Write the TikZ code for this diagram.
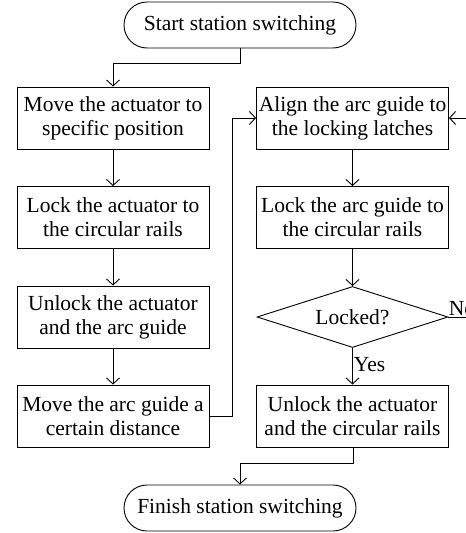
\documentclass[tikz,border=0pt]{standalone}
\usepackage{fontspec}
\setmainfont{Liberation Serif}
\usetikzlibrary{shapes.geometric,arrows.meta}
\begin{document}
\begin{tikzpicture}[x=1pt,y=-1pt,
  font=\fontsize{21.5}{24}\selectfont,
  every path/.style={line width=0.9pt},
  stepbox/.style={draw, rectangle, minimum width=192pt, minimum height=62pt, align=center, inner sep=0pt},
  term/.style={draw, rectangle, rounded corners=23pt, minimum width=232pt, minimum height=46pt, inner sep=0pt},
  decision/.style={draw, diamond, minimum width=191pt, minimum height=61pt, aspect=3.1, inner sep=0pt},
  arr/.style={-{Straight Barb[length=6pt,width=13pt]}, line width=0.9pt},
  lbl/.style={inner sep=1pt}]
\useasboundingbox (0,0) rectangle (466,533);
\node[term] (start) at (240,25) {Start station switching};
\node[stepbox] (b1) at (113,118) {Move the actuator to\\specific position};
\node[stepbox] (b2) at (113,217.5) {Lock the actuator to\\the circular rails};
\node[stepbox] (b3) at (113,317) {Unlock the actuator\\and the arc guide};
\node[stepbox] (b4) at (113,416) {Move the arc guide a\\certain distance};
\node[stepbox] (r1) at (352.5,118) {Align the arc guide to\\the locking latches};
\node[stepbox] (r2) at (352.5,217.5) {Lock the arc guide to\\the circular rails};
\node[decision] (dia) at (352.5,317) {Locked?};
\node[stepbox] (r4) at (352.5,416) {Unlock the actuator\\and the circular rails};
\node[term] (finish) at (240,508) {Finish station switching};
\coordinate (c1) at (240,63);
\coordinate (c2) at (113,63);
\coordinate (c3) at (232,416);
\coordinate (c4) at (232,118);
\coordinate (c5) at (353,463);
\coordinate (c6) at (240,463);
\coordinate (c7) at (480,317);
\coordinate (c8) at (480,118);
\draw[arr] (start.south -| c1) -- (c1) -- (c2) -- (b1.north);
\draw[arr] (b1) -- (b2);
\draw[arr] (b2) -- (b3);
\draw[arr] (b3) -- (b4);
\draw[arr] (b4.east) -- (c3) -- (c4) -- (r1.west);
\draw[arr] (r1) -- (r2);
\draw[arr] (r2) -- (dia.north);
\draw[arr] (dia.south) -- node[lbl, right, pos=0.45] (yes) {Yes} (r4.north);
\draw[arr] (dia.east) -- (c7) -- (c8) -- (r1.east);
\node[lbl, anchor=south west] (no) at ([xshift=-1pt]dia.east) {No};
\draw[arr] (r4.south -| c5) -- (c5) -- (c6) -- (finish.north);
\end{tikzpicture}
\end{document}
